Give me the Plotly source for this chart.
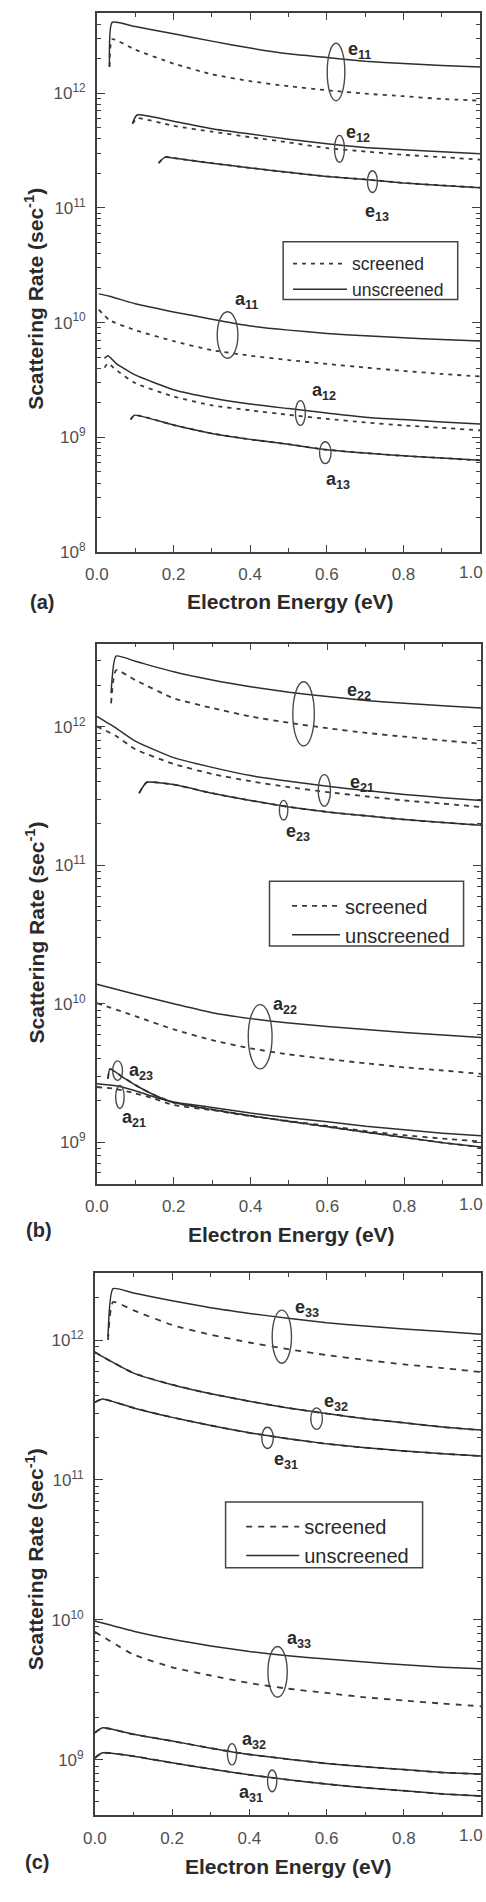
import math
import plotly.graph_objects as go

# ====================== DATA ======================
# ---- panel (a) ----
a_e11_x = [0.033, 0.04, 0.1, 0.2, 0.3, 0.4, 0.5, 0.6, 0.7, 0.8, 0.9, 1.0]
a_e11_unscr = [1.7e12, 4.14e12, 3.8e12, 3.29e12, 2.84e12, 2.47e12, 2.2e12, 2.04e12, 1.9e12, 1.81e12, 1.74e12, 1.69e12]
a_e11_scr = [1.7e12, 2.95e12, 2.39e12, 1.81e12, 1.46e12, 1.27e12, 1.15e12, 1.06e12, 9.9e11, 9.4e11, 8.9e11, 8.6e11]

a_e12_x = [0.093, 0.105, 0.2, 0.3, 0.4, 0.5, 0.6, 0.7, 0.8, 0.9, 1.0]
a_e12_unscr = [5.5e11, 6.45e11, 5.7e11, 4.9e11, 4.4e11, 3.97e11, 3.62e11, 3.36e11, 3.21e11, 3.08e11, 2.96e11]
a_e12_scr = [5.4e11, 6.04e11, 5.18e11, 4.62e11, 4.13e11, 3.72e11, 3.32e11, 3.1e11, 2.9e11, 2.77e11, 2.63e11]

a_e13_x = [0.161, 0.178, 0.2, 0.3, 0.4, 0.5, 0.6, 0.7, 0.8, 0.9, 1.0]
a_e13_unscr = [2.46e11, 2.77e11, 2.72e11, 2.45e11, 2.23e11, 2.04e11, 1.88e11, 1.77e11, 1.65e11, 1.57e11, 1.5e11]
a_e13_scr = [2.46e11, 2.77e11, 2.72e11, 2.45e11, 2.23e11, 2.04e11, 1.88e11, 1.77e11, 1.65e11, 1.57e11, 1.5e11]

a_a11_x = [0.005, 0.033, 0.1, 0.2, 0.3, 0.4, 0.5, 0.6, 0.7, 0.8, 0.9, 1.0]
a_a11_unscr = [1.78e10, 1.7e10, 1.46e10, 1.24e10, 1.07e10, 9.36e9, 8.6e9, 8.04e9, 7.67e9, 7.37e9, 7.12e9, 6.9e9]
a_a11_scr = [1.3e10, 1.05e10, 8.6e9, 6.9e9, 5.75e9, 5.15e9, 4.72e9, 4.36e9, 4.06e9, 3.79e9, 3.57e9, 3.39e9]

a_a12_x = [0.02, 0.029, 0.05, 0.1, 0.2, 0.3, 0.4, 0.5, 0.6, 0.7, 0.8, 0.9, 1.0]
a_a12_unscr = [4.88e9, 5.14e9, 4.42e9, 3.5e9, 2.6e9, 2.2e9, 1.95e9, 1.78e9, 1.63e9, 1.5e9, 1.43e9, 1.36e9, 1.31e9]
a_a12_scr = [4.05e9, 4.42e9, 3.87e9, 2.97e9, 2.27e9, 1.9e9, 1.72e9, 1.57e9, 1.45e9, 1.35e9, 1.27e9, 1.21e9, 1.15e9]

a_a13_x = [0.088, 0.098, 0.2, 0.3, 0.4, 0.5, 0.6, 0.7, 0.8, 0.9, 1.0]
a_a13_unscr = [1.43e9, 1.56e9, 1.28e9, 1.08e9, 9.6e8, 8.7e8, 7.8e8, 7.3e8, 6.9e8, 6.6e8, 6.3e8]
a_a13_scr = [1.43e9, 1.56e9, 1.28e9, 1.08e9, 9.6e8, 8.7e8, 7.8e8, 7.3e8, 6.9e8, 6.6e8, 6.3e8]

# ---- panel (b) ----
b_e22_x = [0.037, 0.05, 0.1, 0.2, 0.3, 0.4, 0.5, 0.6, 0.7, 0.8, 0.9, 1.0]
b_e22_unscr = [1.75e12, 3.25e12, 2.98e12, 2.5e12, 2.18e12, 1.95e12, 1.78e12, 1.66e12, 1.55e12, 1.48e12, 1.42e12, 1.37e12]
b_e22_scr = [1.48e12, 2.57e12, 2.18e12, 1.61e12, 1.37e12, 1.19e12, 1.07e12, 9.8e11, 9.06e11, 8.5e11, 7.98e11, 7.56e11]

b_e21_x = [0.0, 0.05, 0.1, 0.2, 0.3, 0.4, 0.5, 0.6, 0.7, 0.8, 0.9, 1.0]
b_e21_unscr = [1.19e12, 9.8e11, 7.9e11, 6.0e11, 5.1e11, 4.45e11, 4.05e11, 3.73e11, 3.47e11, 3.25e11, 3.08e11, 2.94e11]
b_e21_scr = [1.01e12, 8.6e11, 6.9e11, 5.4e11, 4.57e11, 4.05e11, 3.67e11, 3.38e11, 3.15e11, 2.94e11, 2.79e11, 2.64e11]

b_e23_x = [0.11, 0.13, 0.2, 0.3, 0.4, 0.5, 0.6, 0.7, 0.8, 0.9, 1.0]
b_e23_unscr = [3.32e11, 3.98e11, 3.83e11, 3.32e11, 2.94e11, 2.64e11, 2.43e11, 2.28e11, 2.14e11, 2.04e11, 1.95e11]
b_e23_scr = [3.32e11, 3.98e11, 3.83e11, 3.32e11, 2.94e11, 2.64e11, 2.43e11, 2.28e11, 2.14e11, 2.04e11, 1.95e11]

b_a22_x = [0.0, 0.1, 0.2, 0.3, 0.4, 0.5, 0.6, 0.7, 0.8, 0.9, 1.0]
b_a22_unscr = [1.38e10, 1.17e10, 1.0e10, 8.6e9, 7.8e9, 7.25e9, 6.85e9, 6.5e9, 6.2e9, 5.95e9, 5.7e9]
b_a22_scr = [1.01e10, 8.13e9, 6.52e9, 5.45e9, 4.75e9, 4.3e9, 3.98e9, 3.71e9, 3.47e9, 3.29e9, 3.11e9]

b_a21_x = [0.0, 0.05, 0.1, 0.15, 0.2, 0.3, 0.4, 0.5, 0.6, 0.7, 0.8, 0.9, 1.0]
b_a21_unscr = [2.64e9, 2.55e9, 2.35e9, 2.12e9, 1.95e9, 1.78e9, 1.62e9, 1.5e9, 1.4e9, 1.3e9, 1.23e9, 1.16e9, 1.11e9]
b_a21_scr = [2.5e9, 2.42e9, 2.25e9, 2.06e9, 1.85e9, 1.7e9, 1.54e9, 1.42e9, 1.31e9, 1.2e9, 1.12e9, 1.06e9, 1.01e9]

b_a23_x = [0.029, 0.034, 0.067, 0.109, 0.151, 0.2, 0.3, 0.4, 0.5, 0.6, 0.7, 0.8, 0.9, 1.0]
b_a23_unscr = [2.87e9, 3.38e9, 2.95e9, 2.5e9, 2.18e9, 1.93e9, 1.72e9, 1.55e9, 1.41e9, 1.29e9, 1.18e9, 1.08e9, 0.99e9, 0.92e9]
b_a23_scr = [2.87e9, 3.38e9, 2.95e9, 2.5e9, 2.18e9, 1.93e9, 1.72e9, 1.55e9, 1.41e9, 1.29e9, 1.18e9, 1.08e9, 0.99e9, 0.92e9]

# ---- panel (c) ----
c_e33_x = [0.034, 0.047, 0.1, 0.2, 0.3, 0.4, 0.5, 0.6, 0.7, 0.8, 0.9, 1.0]
c_e33_unscr = [1.06e12, 2.33e12, 2.17e12, 1.91e12, 1.7e12, 1.55e12, 1.43e12, 1.33e12, 1.26e12, 1.2e12, 1.15e12, 1.1e12]
c_e33_scr = [1.0e12, 1.87e12, 1.63e12, 1.28e12, 1.09e12, 9.6e11, 8.6e11, 7.8e11, 7.2e11, 6.7e11, 6.3e11, 5.9e11]

c_e32_x = [0.0, 0.02, 0.1, 0.2, 0.3, 0.4, 0.5, 0.6, 0.7, 0.8, 0.9, 1.0]
c_e32_unscr = [8.2e11, 7.6e11, 5.8e11, 4.79e11, 4.13e11, 3.65e11, 3.27e11, 2.98e11, 2.74e11, 2.56e11, 2.39e11, 2.27e11]
c_e32_scr = [8.2e11, 7.6e11, 5.8e11, 4.79e11, 4.13e11, 3.65e11, 3.27e11, 2.98e11, 2.74e11, 2.56e11, 2.39e11, 2.27e11]

c_e31_x = [0.0, 0.02, 0.1, 0.2, 0.3, 0.4, 0.5, 0.6, 0.7, 0.8, 0.9, 1.0]
c_e31_unscr = [3.59e11, 3.79e11, 3.27e11, 2.8e11, 2.45e11, 2.17e11, 1.97e11, 1.81e11, 1.7e11, 1.61e11, 1.54e11, 1.48e11]
c_e31_scr = [3.59e11, 3.79e11, 3.27e11, 2.8e11, 2.45e11, 2.17e11, 1.97e11, 1.81e11, 1.7e11, 1.61e11, 1.54e11, 1.48e11]

c_a33_x = [0.0, 0.1, 0.2, 0.3, 0.4, 0.5, 0.6, 0.7, 0.8, 0.9, 1.0]
c_a33_unscr = [9.8e9, 8.3e9, 7.26e9, 6.51e9, 5.93e9, 5.53e9, 5.24e9, 4.99e9, 4.77e9, 4.59e9, 4.47e9]
c_a33_scr = [8.2e9, 5.65e9, 4.58e9, 4.0e9, 3.53e9, 3.22e9, 3.0e9, 2.79e9, 2.65e9, 2.52e9, 2.41e9]

c_a32_x = [0.0, 0.02, 0.1, 0.2, 0.3, 0.4, 0.5, 0.6, 0.7, 0.8, 0.9, 1.0]
c_a32_unscr = [1.56e9, 1.69e9, 1.52e9, 1.36e9, 1.21e9, 1.09e9, 1.01e9, 9.4e8, 8.9e8, 8.5e8, 8.1e8, 7.9e8]
c_a32_scr = [1.56e9, 1.69e9, 1.52e9, 1.36e9, 1.21e9, 1.09e9, 1.01e9, 9.4e8, 8.9e8, 8.5e8, 8.1e8, 7.9e8]

c_a31_x = [0.0, 0.02, 0.1, 0.2, 0.3, 0.4, 0.5, 0.6, 0.7, 0.8, 0.9, 1.0]
c_a31_unscr = [1.03e9, 1.12e9, 1.06e9, 9.5e8, 8.6e8, 7.8e8, 7.2e8, 6.7e8, 6.3e8, 6.0e8, 5.7e8, 5.5e8]
c_a31_scr = [1.03e9, 1.12e9, 1.06e9, 9.5e8, 8.6e8, 7.8e8, 7.2e8, 6.7e8, 6.3e8, 6.0e8, 5.7e8, 5.5e8]

# tick labels / axis text
x_tickvals = [0.0, 0.2, 0.4, 0.6, 0.8, 1.0]
x_ticktext = ["0.0", "0.2", "0.4", "0.6", "0.8", "1.0"]
x_title = "<b>Electron Energy (eV)</b>"
y_title = "<b>Scattering Rate (sec<sup>-1</sup>)</b>"
legend_names = ["screened", "unscreened"]
panel_tags = ["<b>(a)</b>", "<b>(b)</b>", "<b>(c)</b>"]

# curve labels: (letter, subscript, x, log10 y)
# ellipses: (x centre, log10 y centre, half width in x, half height in decades)
a_labels = [("e", "11", 0.684, 12.372), ("e", "12", 0.681, 11.645), ("e", "13", 0.730, 10.961),
            ("a", "11", 0.390, 10.190), ("a", "12", 0.592, 9.403), ("a", "13", 0.630, 8.623)]
a_ellipses = [(0.624, 12.184, 0.023, 0.251), (0.633, 11.515, 0.013, 0.117), (0.719, 11.229, 0.013, 0.095),
              (0.341, 9.892, 0.027, 0.203), (0.531, 9.212, 0.013, 0.108), (0.596, 8.866, 0.015, 0.095)]
b_labels = [("e", "22", 0.683, 12.257), ("e", "21", 0.689, 11.593), ("e", "23", 0.524, 11.236),
            ("a", "22", 0.490, 9.986), ("a", "23", 0.115, 9.507), ("a", "21", 0.096, 9.171)]
b_ellipses = [(0.538, 12.094, 0.028, 0.232), (0.592, 11.541, 0.016, 0.114), (0.486, 11.398, 0.011, 0.071),
              (0.425, 9.761, 0.031, 0.232), (0.054, 9.516, 0.0127, 0.071), (0.060, 9.326, 0.011, 0.083)]
c_labels = [("e", "33", 0.549, 12.225), ("e", "32", 0.625, 11.557), ("e", "31", 0.494, 11.138),
            ("a", "33", 0.528, 9.859), ("a", "32", 0.412, 9.134), ("a", "31", 0.405, 8.757)]
c_ellipses = [(0.484, 12.024, 0.025, 0.190), (0.574, 11.438, 0.015, 0.077), (0.447, 11.301, 0.015, 0.076),
              (0.473, 9.628, 0.025, 0.181), (0.355, 9.039, 0.012, 0.076), (0.459, 8.849, 0.012, 0.078)]

# ====================== LAYOUT GEOMETRY (pixels) ======================
W, H = 486, 1902
FONT = "Liberation Sans, Arial, Helvetica, sans-serif"
AX = "#3f3f3f"
SOLID = "#2e2e2e"
DASHC = "#3a3a3a"
TXT = "#2a2a2a"
TICKC = "#505050"


def px_x(p):
    return p / W


def px_y(p):
    return 1 - p / H


panels = [
    dict(xa="x", ya="y", leg="legend", box=(87, 480, 13, 555), yr=(8.0, math.log10(5e12)),
         dash="4px,5px", lfont=17.5, iw=54, legpos=(283, 247), legbox=(278, 457, 243, 301),
         curves=[(a_e11_x, a_e11_scr, a_e11_unscr), (a_e12_x, a_e12_scr, a_e12_unscr),
                 (a_e13_x, a_e13_scr, a_e13_unscr), (a_a11_x, a_a11_scr, a_a11_unscr),
                 (a_a12_x, a_a12_scr, a_a12_unscr), (a_a13_x, a_a13_scr, a_a13_unscr)],
         labels=a_labels, ellipses=a_ellipses,
         xt=(286, 605), yt=(23, 300), tag=(31, 605)),
    dict(xa="x2", ya="y2", leg="legend2", box=(87, 481, 647, 1190), yr=(math.log10(5e8), math.log10(4e12)),
         dash="5px,5px", lfont=20, iw=48, legpos=(282, 891), legbox=(264, 463, 886, 951),
         curves=[(b_e22_x, b_e22_scr, b_e22_unscr), (b_e21_x, b_e21_scr, b_e21_unscr),
                 (b_e23_x, b_e23_scr, b_e23_unscr), (b_a22_x, b_a22_scr, b_a22_unscr),
                 (b_a21_x, b_a21_scr, b_a21_unscr), (b_a23_x, b_a23_scr, b_a23_unscr)],
         labels=b_labels, ellipses=b_ellipses,
         xt=(287, 1241), yt=(24, 937), tag=(28, 1237)),
    dict(xa="x3", ya="y3", leg="legend3", box=(85, 481, 1280, 1825), yr=(math.log10(4e8), math.log10(3e12)),
         dash="6px,6px", lfont=20, iw=53, legpos=(235, 1515), legbox=(219, 421, 1510, 1576),
         curves=[(c_e33_x, c_e33_scr, c_e33_unscr), (c_e32_x, c_e32_scr, c_e32_unscr),
                 (c_e31_x, c_e31_scr, c_e31_unscr), (c_a33_x, c_a33_scr, c_a33_unscr),
                 (c_a32_x, c_a32_scr, c_a32_unscr), (c_a31_x, c_a31_scr, c_a31_unscr)],
         labels=c_labels, ellipses=c_ellipses,
         xt=(284, 1876), yt=(23, 1567), tag=(26, 1872)),
]

fig = go.Figure()
layout = dict(width=W, height=H, margin=dict(l=0, r=0, t=0, b=0),
              paper_bgcolor="white", plot_bgcolor="white", showlegend=True)
shapes, annotations = [], []

for i, p in enumerate(panels):
    sfx = "" if i == 0 else str(i + 1)
    # screened (dashed) first, then unscreened (solid) on top
    for k, (xs, scr, uns) in enumerate(p["curves"]):
        fig.add_trace(go.Scatter(
            x=xs, y=scr, mode="lines", xaxis=p["xa"], yaxis=p["ya"], legend=p["leg"],
            name=legend_names[0], legendgroup="s" + sfx, showlegend=(k == 0),
            line=dict(color=DASHC, width=1.8, dash=p["dash"], shape="spline", smoothing=0.5)))
    for k, (xs, scr, uns) in enumerate(p["curves"]):
        fig.add_trace(go.Scatter(
            x=xs, y=uns, mode="lines", xaxis=p["xa"], yaxis=p["ya"], legend=p["leg"],
            name=legend_names[1], legendgroup="u" + sfx, showlegend=(k == 0),
            line=dict(color=SOLID, width=1.5, shape="spline", smoothing=0.5)))

    x0, x1, y0, y1 = p["box"]
    lo, hi = p["yr"]
    decades = [10.0 ** n for n in range(8, 13) if lo - 1e-9 <= n <= hi + 1e-9]
    minors = [m * 10.0 ** n for n in range(8, 13) for m in range(2, 10)
              if lo <= math.log10(m * 10.0 ** n) <= hi]
    layout["xaxis" + sfx] = dict(
        domain=[px_x(x0), px_x(x1)], anchor=p["ya"], range=[0, 1],
        tickmode="array", tickvals=x_tickvals, ticktext=x_ticktext,
        ticks="inside", ticklen=7, tickwidth=1.3, tickcolor=AX,
        showline=True, linecolor=AX, linewidth=1.6, mirror="allticks",
        showgrid=False, zeroline=False, ticklabelstandoff=6,
        tickfont=dict(family=FONT, size=17, color=TICKC),
        minor=dict(dtick=0.1, tick0=0, ticks="inside", ticklen=4, tickwidth=1.2, tickcolor=AX))
    layout["yaxis" + sfx] = dict(
        domain=[px_y(y1), px_y(y0)], anchor=p["xa"], type="log", range=[lo, hi],
        tickmode="array", tickvals=decades,
        ticktext=["10<sup>%d</sup>" % round(math.log10(v)) for v in decades],
        ticks="inside", ticklen=8, tickwidth=1.3, tickcolor=AX,
        showline=True, linecolor=AX, linewidth=1.6, mirror="allticks",
        showgrid=False, zeroline=False, ticklabelstandoff=6,
        tickfont=dict(family=FONT, size=17, color=TICKC),
        minor=dict(tickmode="array", tickvals=minors, ticks="inside", ticklen=4,
                   tickwidth=1.1, tickcolor=AX))

    # the last x tick label ("1.0") sits at the page edge; plotly would hide it,
    # so it is written as text pulled just inside the page edge
    annotations.append(dict(xref="paper", yref="paper", x=px_x(W - 1),
                            y=px_y(y1 + 9), yanchor="top", xanchor="right",
                            text=x_ticktext[-1], showarrow=False,
                            font=dict(family=FONT, size=17, color=TICKC)))

    # legend (library legend, transparent) + drawn frame
    lx, ly = p["legpos"]
    layout[p["leg"]] = dict(x=px_x(lx), y=px_y(ly), xanchor="left", yanchor="top",
                            bgcolor="rgba(0,0,0,0)", borderwidth=0, itemwidth=p["iw"],
                            font=dict(family=FONT, size=p["lfont"], color=TXT),
                            traceorder="normal")
    bx0, bx1, by0, by1 = p["legbox"]
    shapes.append(dict(type="rect", xref="paper", yref="paper",
                       x0=px_x(bx0), x1=px_x(bx1), y0=px_y(by1), y1=px_y(by0),
                       line=dict(color="#444", width=1.5), fillcolor="rgba(0,0,0,0)", layer="below"))

    # ellipses + curve labels
    for (cx, cl, dx, dl) in p["ellipses"]:
        shapes.append(dict(type="circle", xref=p["xa"], yref=p["ya"],
                           x0=cx - dx, x1=cx + dx, y0=10 ** (cl - dl), y1=10 ** (cl + dl),
                           line=dict(color="#4a4a4a", width=1.4)))
    for (ch, sub, lxv, lyv) in p["labels"]:
        annotations.append(dict(xref=p["xa"], yref=p["ya"], x=lxv, y=lyv,
                                text="<b>%s<sub>%s</sub></b>" % (ch, sub), showarrow=False,
                                font=dict(family=FONT, size=18, color=TXT)))

    # axis titles and panel tag
    annotations.append(dict(xref="paper", yref="paper", x=px_x(p["xt"][0]), y=px_y(p["xt"][1]),
                            text=x_title, showarrow=False, xanchor="center", yanchor="middle",
                            font=dict(family=FONT, size=21, color=TXT)))
    annotations.append(dict(xref="paper", yref="paper", x=px_x(p["yt"][0]), y=px_y(p["yt"][1]),
                            text=y_title, showarrow=False, textangle=-90,
                            xanchor="center", yanchor="middle",
                            font=dict(family=FONT, size=21, color=TXT)))
    annotations.append(dict(xref="paper", yref="paper", x=px_x(p["tag"][0]), y=px_y(p["tag"][1]),
                            text=panel_tags[i], showarrow=False, xanchor="center", yanchor="middle",
                            font=dict(family=FONT, size=20, color=TXT)))

layout["shapes"] = shapes
layout["annotations"] = annotations
fig.update_layout(**layout)
fig.write_html("out.html")
